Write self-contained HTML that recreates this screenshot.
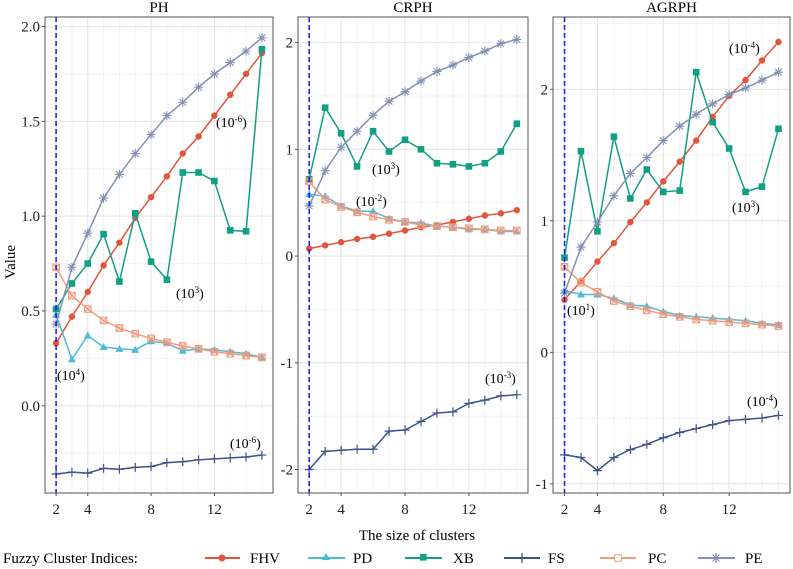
<!DOCTYPE html>
<html><head><meta charset="utf-8"><style>
html,body{margin:0;padding:0;background:#fff;overflow:hidden;width:793px;height:569px}
svg{font-family:"Liberation Serif",serif;display:block}
</style></head><body>
<svg id="c" width="793" height="569" viewBox="0 0 793 569">
 <text x="15" y="262" font-size="15" transform="rotate(-90 15 262)" text-anchor="middle">Value</text>
 <text x="417" y="540" font-size="15" text-anchor="middle">The size of clusters</text>
 <g font-size="15">
  <text x="3" y="563">Fuzzy Cluster Indices:</text>
  <g><line x1="205" x2="240" y1="558" y2="558" stroke="#e4543b" stroke-width="2"/><circle cx="222" cy="558" r="3.5" fill="#e4543b"/><text x="250" y="563">FHV</text></g>
  <g><line x1="308" x2="345" y1="558" y2="558" stroke="#4dbbd5" stroke-width="2"/><polygon points="326,553 322,560 330,560" fill="#4dbbd5"/><text x="353" y="563">PD</text></g>
  <g><line x1="405" x2="442" y1="558" y2="558" stroke="#12a084" stroke-width="2"/><rect x="420" y="554" width="6.6" height="6.6" fill="#12a084"/><text x="453" y="563">XB</text></g>
  <g><line x1="504" x2="540" y1="558" y2="558" stroke="#3c5488" stroke-width="2"/><line x1="522" x2="522" y1="553" y2="563" stroke="#3c5488" stroke-width="1.3"/><text x="548" y="563">FS</text></g>
  <g><line x1="600" x2="636" y1="558" y2="558" stroke="#f39b7f" stroke-width="2"/><rect x="614.7" y="554.7" width="6.6" height="6.6" fill="#fff" stroke="#f39b7f"/><text x="648" y="563">PC</text></g>
  <g><line x1="698" x2="735" y1="558" y2="558" stroke="#8491b4" stroke-width="2"/><path d="M716,553V563M712.5,554.5l7,7M719.5,554.5l-7,7" stroke="#8491b4" stroke-width="1.2"/><text x="745" y="563">PE</text></g>
 </g>
</svg>
<script>
const clusterSizes=[2,3,4,5,6,7,8,9,10,11,12,13,14,15];
const panelTitles=["PH","CRPH","AGRPH"];
const seriesNames=["FHV","PD","XB","FS","PC","PE"];
const phFHV=[0.33,0.47,0.60,0.74,0.86,0.99,1.10,1.21,1.33,1.42,1.53,1.64,1.75,1.86];
const phPD=[0.48,0.245,0.37,0.31,0.30,0.295,0.34,0.33,0.29,0.30,0.295,0.285,0.275,0.255];
const phXB=[0.51,0.645,0.75,0.905,0.655,1.015,0.76,0.665,1.23,1.23,1.185,0.925,0.92,1.88];
const phFS=[-0.36,-0.35,-0.355,-0.33,-0.335,-0.325,-0.32,-0.30,-0.295,-0.285,-0.28,-0.275,-0.27,-0.26];
const phPC=[0.73,0.58,0.51,0.45,0.41,0.38,0.355,0.335,0.315,0.30,0.285,0.275,0.265,0.255];
const phPE=[0.43,0.73,0.91,1.095,1.22,1.33,1.43,1.53,1.60,1.68,1.75,1.81,1.87,1.94];
const crFHV=[0.07,0.10,0.13,0.16,0.18,0.21,0.24,0.27,0.29,0.32,0.35,0.38,0.40,0.43];
const crPD=[0.58,0.56,0.47,0.42,0.42,0.35,0.32,0.31,0.28,0.27,0.25,0.25,0.23,0.23];
const crXB=[0.72,1.39,1.15,0.84,1.17,0.98,1.09,1.00,0.87,0.86,0.84,0.87,0.98,1.24];
const crFS=[-2.0,-1.83,-1.82,-1.81,-1.81,-1.64,-1.63,-1.55,-1.47,-1.46,-1.38,-1.35,-1.31,-1.30];
const crPC=[0.70,0.53,0.46,0.41,0.37,0.34,0.32,0.29,0.28,0.27,0.26,0.25,0.24,0.24];
const crPE=[0.47,0.80,1.02,1.17,1.32,1.45,1.54,1.64,1.73,1.79,1.86,1.92,1.99,2.03];
const agFHV=[0.40,0.54,0.69,0.83,0.99,1.14,1.30,1.45,1.61,1.79,1.95,2.07,2.22,2.36];
const agPD=[0.47,0.44,0.44,0.41,0.36,0.35,0.31,0.28,0.27,0.26,0.25,0.24,0.22,0.21];
const agXB=[0.72,1.53,0.92,1.64,1.17,1.39,1.22,1.23,2.13,1.75,1.55,1.22,1.26,1.70];
const agFS=[-0.78,-0.80,-0.90,-0.80,-0.74,-0.70,-0.65,-0.61,-0.58,-0.55,-0.52,-0.51,-0.50,-0.48];
const agPC=[0.65,0.53,0.46,0.39,0.35,0.32,0.29,0.27,0.25,0.24,0.23,0.22,0.21,0.20];
const agPE=[0.45,0.80,0.99,1.19,1.36,1.48,1.61,1.72,1.81,1.89,1.96,2.01,2.07,2.13];
const xTicks=[2,4,8,12];
const phYTicks=[0.0,0.5,1.0,1.5,2.0];
const phYLabels=["0.0","0.5","1.0","1.5","2.0"];
const crYTicks=[-2,-1,0,1,2];
const agYTicks=[-1,0,1,2];

const colors={FHV:"#e4543b",PD:"#4dbbd5",XB:"#12a084",FS:"#3c5488",PC:"#f39b7f",PE:"#8491b4"};
const NS="http://www.w3.org/2000/svg";
const svg=document.getElementById("c");
function mk(tag,attrs,parent){const e=document.createElementNS(NS,tag);for(const k in attrs)e.setAttribute(k,attrs[k]);(parent||svg).appendChild(e);return e;}

const panels=[
 {l:45,r:273,t:17,b:493,ymin:-0.46,ymax:2.05,ticks:phYTicks,labels:phYLabels,data:[phFHV,phPD,phXB,phFS,phPC,phPE],
  ann:[[216,127,"(10","-6",")"],[176,298,"(10","3",")"],[57,380,"(10","4",")"],[230,448,"(10","-6",")"]]},
 {l:298,r:528,t:17,b:493,ymin:-2.22,ymax:2.24,ticks:crYTicks,labels:["-2","-1","0","1","2"],data:[crFHV,crPD,crXB,crFS,crPC,crPE],
  ann:[[372,174,"(10","3",")"],[356,206,"(10","-2",")"],[485,383,"(10","-3",")"]]},
 {l:553,r:790,t:17,b:493,ymin:-1.07,ymax:2.55,ticks:agYTicks,labels:["-1","0","1","2"],data:[agFHV,agPD,agXB,agFS,agPC,agPE],
  ann:[[729,53,"(10","-4",")"],[732,212,"(10","3",")"],[567,315,"(10","1",")"],[747,406,"(10","-4",")"]]}
];

function drawMarker(name,x,y,g){
 const c=colors[name];
 if(name==="FHV"){const m=mk("circle",{cx:x,cy:y,r:3.2,fill:c},g);}
 else if(name==="PD"){const m=mk("polygon",{points:`${x},${y-4} ${x-4},${y+3} ${x+4},${y+3}`,fill:c},g);}
 else if(name==="XB"){const m=mk("rect",{x:x-3.3,y:y-3.3,width:6.6,height:6.6,fill:c},g);}
 else if(name==="FS"){const m=mk("path",{d:`M${x-4.5},${y}H${x+4.5}M${x},${y-4.5}V${y+4.5}`,stroke:c,"stroke-width":1.2},g);}
 else if(name==="PC"){const m=mk("path",{d:`M${x-3.3},${y-3.3}h6.6v6.6h-6.6zM${x-3.3},${y-3.3}l6.6,6.6M${x+3.3},${y-3.3}l-6.6,6.6`,stroke:c,fill:"none","stroke-width":1.1},g);}
 else {const m=mk("path",{d:`M${x-4.5},${y}H${x+4.5}M${x},${y-4.5}V${y+4.5}M${x-3.3},${y-3.3}l6.6,6.6M${x+3.3},${y-3.3}l-6.6,6.6`,stroke:c,"stroke-width":1.1},g);}
}

panels.forEach((p,pi)=>{
 const xs=v=>p.l+(v-1.3)/(15.7-1.3)*(p.r-p.l);
 const ys=v=>p.b-(v-p.ymin)/(p.ymax-p.ymin)*(p.b-p.t);
 const g=mk("g",{});
 
 
 for(let i=0;i<p.ticks.length-1;i++){const v=(p.ticks[i]+p.ticks[i+1])/2;mk("line",{x1:p.l,x2:p.r,y1:ys(v),y2:ys(v),stroke:"#f0f0f0","stroke-width":0.8},g);}
 {const d=p.ticks[1]-p.ticks[0];[p.ticks[0]-d/2,p.ticks[p.ticks.length-1]+d/2].forEach(v=>{if(v>p.ymin&&v<p.ymax)mk("line",{x1:p.l,x2:p.r,y1:ys(v),y2:ys(v),stroke:"#f0f0f0","stroke-width":0.8},g);});}
 [3,5,6,7,9,10,11,13,14,15].forEach(v=>mk("line",{x1:xs(v),x2:xs(v),y1:p.t,y2:p.b,stroke:"#f0f0f0","stroke-width":0.8},g));
 p.ticks.forEach(v=>mk("line",{x1:p.l,x2:p.r,y1:ys(v),y2:ys(v),stroke:"#e6e6e6","stroke-width":1.1},g));
 xTicks.forEach(v=>mk("line",{x1:xs(v),x2:xs(v),y1:p.t,y2:p.b,stroke:"#e6e6e6","stroke-width":1.1},g));
 seriesNames.forEach((n,si)=>{
  const vals=p.data[si];
  const sg=mk("g",{},g);
  
  
  const pts=clusterSizes.map((x,i)=>xs(x)+","+ys(vals[i])).join(" ");
  const pl=mk("polyline",{points:pts,fill:"none",stroke:colors[n],"stroke-width":1.5},sg);
  
  
  clusterSizes.forEach((x,i)=>drawMarker(n,xs(x),ys(vals[i]),sg));
 });
 const vl=mk("line",{x1:xs(2),x2:xs(2),y1:p.t,y2:p.b,stroke:"#1a1adb","stroke-width":1.5,"stroke-dasharray":"5,3"},g);
 
 
 mk("rect",{x:p.l,y:p.t,width:p.r-p.l,height:p.b-p.t,fill:"none",stroke:"#555","stroke-width":1},g);
 const tt=mk("text",{x:(p.l+p.r)/2,y:12,"text-anchor":"middle","font-size":15},g);tt.textContent=panelTitles[pi];
 
 p.ticks.forEach((v,i)=>{mk("line",{x1:p.l-3,x2:p.l,y1:ys(v),y2:ys(v),stroke:"#555"},g);
  const t=mk("text",{x:p.l-5,y:ys(v)+5,"text-anchor":"end","font-size":15,fill:"#222"},g);t.textContent=p.labels[i];
  });
 xTicks.forEach(v=>{mk("line",{x1:xs(v),x2:xs(v),y1:p.b,y2:p.b+3,stroke:"#555"},g);
  const t=mk("text",{x:xs(v),y:p.b+21,"text-anchor":"middle","font-size":15,fill:"#222"},g);t.textContent=v;
  });
 p.ann.forEach(a=>{const t=mk("text",{x:a[0],y:a[1],"font-size":14},g);
  
  const s1=mk("tspan",{},t);s1.textContent=a[2];
  const s2=mk("tspan",{dy:-5,"font-size":9},t);s2.textContent=a[3];
  const s3=mk("tspan",{dy:5},t);s3.textContent=a[4];});
});
</script>
</body></html>
